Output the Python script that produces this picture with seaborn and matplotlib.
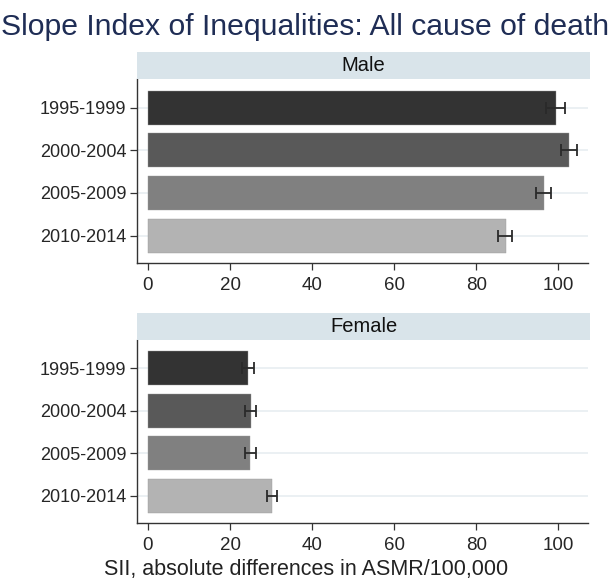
import matplotlib
matplotlib.use("Agg")
import matplotlib.pyplot as plt
import seaborn as sns
import pandas as pd
from matplotlib.patches import Rectangle

periods = ["1995-1999", "2000-2004", "2005-2009", "2010-2014"]
male_sii = [99.3, 102.5, 96.4, 87.2]
male_lo = [97.0, 100.6, 94.5, 85.3]
male_hi = [101.6, 104.6, 98.1, 88.7]
female_sii = [24.3, 25.0, 24.8, 30.3]
female_lo = [22.8, 23.7, 23.6, 29.0]
female_hi = [25.8, 26.3, 26.2, 31.5]
panels = ["Male", "Female"]
xticks = [0, 20, 40, 60, 80, 100]

bar_colors = ["#333333", "#595959", "#808080", "#b3b3b3"]

sns.set_theme(style="white")
plt.rcParams["font.family"] = ["Liberation Sans", "DejaVu Sans"]

W, H = 615, 583
fig = plt.figure(figsize=(W / 100, H / 100), dpi=100)

def rect(x0, y0, x1, y1):
    return [x0 / W, 1 - y1 / H, (x1 - x0) / W, (y1 - y0) / H]

fig.text(1 / W, 1 - 27 / H, "Slope Index of Inequalities: All cause of death",
         fontsize=21.7, color="#1f2d55", ha="left", va="center")

data = [(male_sii, male_lo, male_hi), (female_sii, female_lo, female_hi)]
tops = [79, 340]
bottoms = [263, 523]
ax_left, ax_right = 137.3, 588

for name, (vals, lo, hi), top, bot in zip(panels, data, tops, bottoms):
    ax = fig.add_axes(rect(ax_left, top, ax_right, bot))
    df = pd.DataFrame({"period": periods, "sii": vals})
    sns.barplot(data=df, x="sii", y="period", hue="period", palette=bar_colors,
                legend=False, ax=ax, width=0.8, saturation=1,
                edgecolor="#9a9a9a", linewidth=0.3)
    ypos = list(range(len(periods)))
    xerr = [[v - l for v, l in zip(vals, lo)], [h - v for v, h in zip(vals, hi)]]
    ax.errorbar(vals, ypos, xerr=xerr, fmt="none", ecolor="#2a2a2a",
                elinewidth=1.3, capsize=4.5, capthick=1.3, zorder=5)
    for y in ypos:
        ax.axhline(y, color="#e8eef1", lw=1.2, zorder=0)
    ax.set_xlim(-2.6, 107.2)
    ax.set_ylim(3.64, -0.67)
    ax.set_xticks(xticks)
    ax.set_xticklabels([str(t) for t in xticks], fontsize=13.5)
    ax.tick_params(axis="y", labelsize=13, length=5, width=0.9, color="#333333", pad=3, left=True)
    ax.tick_params(axis="x", length=5, width=0.9, color="#333333", pad=5, bottom=True)
    ax.set_xlabel("")
    ax.set_ylabel("")
    for s in ["top", "right"]:
        ax.spines[s].set_visible(False)
    for s in ["left", "bottom"]:
        ax.spines[s].set_color("#333333")
        ax.spines[s].set_linewidth(1.0)
    ax.set_axisbelow(True)
    # strip header
    sax = fig.add_axes(rect(ax_left, top - 27, 590, top))
    sax.add_patch(Rectangle((0, 0), 1, 1, transform=sax.transAxes, color="#d9e4ea"))
    sax.text(0.5, 0.5, name, ha="center", va="center", fontsize=14.5, color="#111111")
    sax.set_axis_off()

fig.text(306 / W, 1 - 580 / H, "SII, absolute differences in ASMR/100,000",
         fontsize=15.5, ha="center", va="bottom", color="#222222")

fig.savefig("out.png", dpi=100, facecolor="white")
